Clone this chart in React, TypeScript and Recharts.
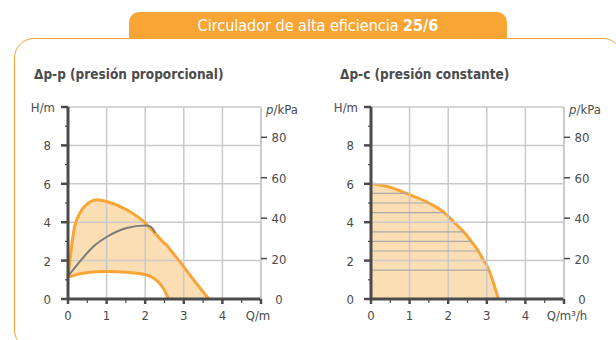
import { ComposedChart, Area, Line, XAxis, YAxis, ReferenceLine } from 'recharts';

// axis ticks
const qTicks = [0, 0.5, 1, 1.5, 2, 2.5, 3, 3.5, 4, 4.5, 5];
const hTicks = [0, 1, 2, 3, 4, 5, 6, 7, 8, 9, 10];
const kpaTicks = [0, 20, 40, 60, 80, 95];
const gridH = [2, 4, 6, 8, 10];
const gridQ = [1, 2, 3, 4, 5];

// Δp-p: envelope between max and min curves (Q in m³/h, H in m)
const ppQ = [0, 0.05, 0.14, 0.31, 0.53, 0.74, 1.0, 1.52, 2.0, 2.1, 2.26, 2.4, 2.5, 2.57, 2.6, 2.99, 3.3, 3.65];
const ppMax = [1.18, 2.05, 3.44, 4.48, 5.0, 5.17, 5.08, 4.65, 3.96, 3.75, 3.42, 3.1, 2.9, 2.78, 2.7, 1.7, 0.88, 0];
const ppMin = [1.15, 1.17, 1.22, 1.32, 1.38, 1.42, 1.43, 1.39, 1.27, 1.2, 1.02, 0.75, 0.45, 0.15, 0, null, null, null];

// Δp-p: grey middle curve
const midQ = [0, 0.31, 0.66, 1.0, 1.52, 2.0, 2.13, 2.26];
const midH = [1.18, 1.96, 2.74, 3.23, 3.7, 3.83, 3.78, 3.44];

// Δp-c: constant pressure curve
const pcQ = [0, 0.4, 1.0, 1.5, 1.9, 2.15, 2.4, 2.6, 2.78, 2.92, 3.0, 3.3];
const pcH = [6.0, 5.87, 5.43, 5.0, 4.5, 4.0, 3.5, 3.0, 2.5, 2.0, 1.75, 0];

// Δp-c: hatch lines inside the area (height, flow where they meet the curve)
const hatchH = [1.5, 2.5, 3, 3.5, 4.5, 5, 5.5];
const hatchQ = [3.04, 2.78, 2.6, 2.4, 1.9, 1.5, 0.95];

const ppData = ppQ.map((q, i) => ({ q, hi: ppMax[i], lo: ppMin[i] }));
const midData = midQ.map((q, i) => ({ q, h: midH[i] }));
const pcData = pcQ.map((q, i) => ({ q, h: pcH[i] }));

const INK = '#4b4b4b';
const GRID = '#c9c9c9';
const ORANGE = '#f8a535';
const FONT = "'Liberation Sans Narrow', 'DejaVu Sans Condensed', 'Arial Narrow', sans-serif";

function HTick(props: any) {
  const { x, y, payload } = props;
  const v = payload.value;
  const major = v % 2 === 0;
  return (
    <g>
      <line x1={x - (major ? 7 : 3)} x2={x} y1={y} y2={y} stroke={INK} strokeWidth={major ? 2.5 : 1.2} />
      {major && (
        <text x={v === 10 ? x - 13 : x - 17} y={y + 5} textAnchor="end" fontSize={13} fill={INK} fontFamily={FONT}>
          {v === 10 ? 'H/m' : v}
        </text>
      )}
    </g>
  );
}

function KpaTick(props: any) {
  const { x, y, payload } = props;
  const v = payload.value;
  if (v === 95) {
    return (
      <text x={x + 21} y={y + 7} textAnchor="middle" fontSize={13} fill={INK} fontFamily={FONT}>
        <tspan fontStyle="italic">p</tspan>/kPa
      </text>
    );
  }
  return (
    <g>
      {v !== 0 && <line x1={x} x2={x + 6} y1={y} y2={y} stroke={INK} strokeWidth={1.5} />}
      <text x={x + 18} y={y + 5} textAnchor="middle" fontSize={13} fill={INK} fontFamily={FONT}>
        {v}
      </text>
    </g>
  );
}

function makeQTick(unit: string, shift: number) {
  return function QTick(props: any) {
    const { x, y, payload } = props;
    const v = payload.value;
    const major = Number.isInteger(v);
    return (
      <g>
        <line x1={x} x2={x} y1={y} y2={y + (major ? 5 : 4)} stroke={INK} strokeWidth={major ? 2.5 : 1.2} />
        {major && (
          <text x={v === 5 ? x + shift : x} y={y + 21} textAnchor="middle" fontSize={13} fill={INK} fontFamily={FONT}>
            {v === 5 ? unit : v}
          </text>
        )}
      </g>
    );
  };
}

const QTickLeft = makeQTick('Q/m', -3);
const QTickRight = makeQTick('Q/m³/h', 3);

function PumpChart({ kind }: { kind: 'pp' | 'pc' }) {
  const data = kind === 'pp' ? ppData : pcData;
  return (
    <ComposedChart width={310} height={340} data={data} margin={{ top: 107, right: 0, bottom: 0, left: 0 }}>
      {gridH.map((h) => (
        <ReferenceLine key={'h' + h} y={h} yAxisId="h" stroke={GRID} strokeWidth={1.5} />
      ))}
      {gridQ.map((q) => (
        <ReferenceLine key={'q' + q} x={q} yAxisId="h" stroke={GRID} strokeWidth={1.5} />
      ))}
      {kind === 'pc' &&
        hatchH.map((h, i) => (
          <ReferenceLine
            key={'hatch' + h}
            yAxisId="h"
            segment={[{ x: 0, y: h }, { x: hatchQ[i], y: h }]}
            stroke="#a8a8a8"
            strokeWidth={1.2}
          />
        ))}
      <XAxis
        dataKey="q"
        type="number"
        domain={[0, 5]}
        ticks={qTicks}
        interval={0}
        height={41}
        tickSize={0}
        tickMargin={0}
        tickLine={false}
        axisLine={{ stroke: INK, strokeWidth: 3 }}
        tick={kind === 'pp' ? <QTickLeft /> : <QTickRight />}
      />
      <YAxis
        yAxisId="h"
        type="number"
        domain={[0, 10]}
        ticks={hTicks}
        interval={0}
        width={68}
        tickSize={0}
        tickMargin={0}
        tickLine={false}
        axisLine={{ stroke: INK, strokeWidth: 3 }}
        tick={<HTick />}
      />
      <YAxis
        yAxisId="kpa"
        orientation="right"
        type="number"
        domain={[0, 95]}
        allowDataOverflow
        ticks={kpaTicks}
        interval={0}
        width={49}
        tickSize={0}
        tickMargin={0}
        tickLine={false}
        axisLine={{ stroke: GRID, strokeWidth: 1.5 }}
        tick={<KpaTick />}
      />
      {kind === 'pp' ? (
        <>
          <Area
            yAxisId="h"
            type="monotone"
            dataKey={(d: any) => [d.lo ?? 0, d.hi]}
            fill={ORANGE}
            fillOpacity={0.37}
            stroke="none"
            isAnimationActive={false}
          />
          <Line yAxisId="h" type="monotone" dataKey="hi" stroke={ORANGE} strokeWidth={3} dot={false} isAnimationActive={false} />
          <Line yAxisId="h" type="monotone" dataKey="lo" stroke={ORANGE} strokeWidth={3} dot={false} isAnimationActive={false} />
          <Line yAxisId="h" data={midData} type="monotone" dataKey="h" stroke="#7b7b7b" strokeWidth={2} dot={false} isAnimationActive={false} />
        </>
      ) : (
        <Area
          yAxisId="h"
          type="monotone"
          dataKey="h"
          fill={ORANGE}
          fillOpacity={0.37}
          stroke={ORANGE}
          strokeWidth={3}
          isAnimationActive={false}
        />
      )}
    </ComposedChart>
  );
}

export default function App() {
  return (
    <div style={{ position: 'absolute', left: 0, top: 0, width: 616, height: 340, overflow: 'hidden', background: '#fff', fontFamily: FONT }}>
      <div
        style={{
          position: 'absolute', left: 14, top: 38, width: 609, height: 312, boxSizing: 'border-box',
          border: `1.5px solid ${ORANGE}`, borderRadius: 20,
        }}
      />
      <div
        style={{
          position: 'absolute', left: 129, top: 12, width: 378, height: 27, background: ORANGE,
          borderRadius: '10px 10px 0 0', color: '#fff', fontSize: 16, lineHeight: '27px', textAlign: 'center',
        }}
      >
        Circulador de alta eficiencia <b>25/6</b>
      </div>
      <div style={{ position: 'absolute', left: 34, top: 66, fontSize: 13.5, fontWeight: 'bold', color: INK }}>
        Δp-p (presión proporcional)
      </div>
      <div style={{ position: 'absolute', left: 340, top: 66, fontSize: 13.5, fontWeight: 'bold', color: INK }}>
        Δp-c (presión constante)
      </div>
      <div style={{ position: 'absolute', left: 0, top: 0 }}>
        <PumpChart kind="pp" />
      </div>
      <div style={{ position: 'absolute', left: 303, top: 0 }}>
        <PumpChart kind="pc" />
      </div>
    </div>
  );
}
